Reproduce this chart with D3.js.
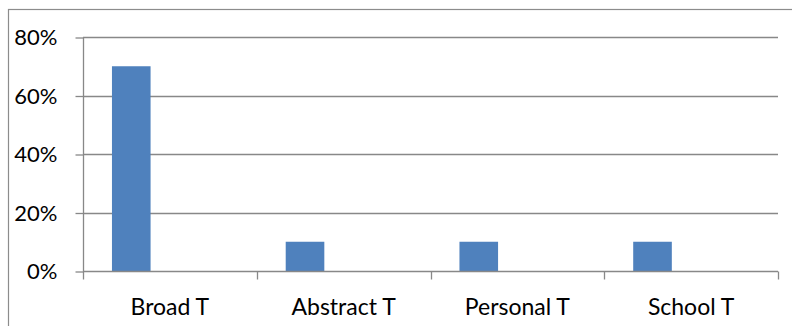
<!DOCTYPE html>
<html>
<head>
<meta charset="utf-8">
<script src="https://cdn.jsdelivr.net/npm/d3@7"></script>
<style>
  html, body { margin: 0; padding: 0; background: #fff; }
  svg { display: block; }
  text { font-family: Lato, "Open Sans", sans-serif; fill: #000; }
</style>
</head>
<body>
<svg id="chart" width="792" height="326"></svg>
<script>
// Categories and series values
const categories = ["Broad T", "Abstract T", "Personal T", "School T"];
const seriesNames = ["Series1", "Series2", "Series3"];
const series1 = [0.70, 0.10, 0.10, 0.10];
const series2 = [0, 0, 0, 0];
const series3 = [0, 0, 0, 0];
const yTicks = [0, 0.2, 0.4, 0.6, 0.8];

const seriesValues = [series1, series2, series3];

const svg = d3.select("#chart");
const W = 792, H = 326;
const m = { left: 83, right: 14, top: 37, bottom: 55 };

// Outer chart frame (extends past the window on right and bottom)
svg.append("rect")
  .attr("x", 8.5).attr("y", 9.5)
  .attr("width", 900).attr("height", 500)
  .attr("fill", "none").attr("stroke", "#8c8c8c").attr("stroke-width", 1.2);

const x = d3.scaleBand().domain(categories)
  .range([m.left, W - m.right]).paddingInner(0).paddingOuter(0);
const y = d3.scaleLinear().domain([0, 0.8]).range([H - m.bottom, m.top]);

// Each category holds three series slots with a 150% gap split around them
const slot = x.bandwidth() / (seriesNames.length + 1.5);
const xs = d3.scaleBand().domain(seriesNames)
  .range([slot * 0.75, slot * 0.75 + slot * seriesNames.length]).padding(0);

// Gridlines
const grid = svg.append("g");
grid.selectAll("line").data(yTicks.filter(d => d > 0)).join("line")
  .attr("x1", m.left).attr("x2", W - m.right)
  .attr("y1", d => Math.round(y(d)) + 0.5).attr("y2", d => Math.round(y(d)) + 0.5)
  .attr("stroke", "#888").attr("stroke-width", 1.3);

// Bars
const rows = categories.map((c, i) => ({ c, vals: seriesNames.map((s, k) => ({ s, v: seriesValues[k][i] })) }));
svg.append("g").selectAll("g").data(rows).join("g")
  .attr("transform", d => `translate(${x(d.c)},0)`)
  .selectAll("rect").data(d => d.vals.filter(e => e.v > 0)).join("rect")
  .attr("x", d => xs(d.s))
  .attr("width", xs.bandwidth())
  .attr("y", d => y(d.v))
  .attr("height", d => y(0) - y(d.v))
  .attr("fill", "#4f81bd");

// Y axis
const yAxis = d3.axisLeft(y).tickValues(yTicks).tickFormat(d3.format(".0%"))
  .tickSize(8).tickPadding(18);
const gy = svg.append("g").attr("transform", `translate(${m.left + 0.5},0.5)`).call(yAxis);
gy.select(".domain").attr("stroke", "#888").attr("stroke-width", 1.3).attr("d", `M0,${y(0.8)}V${y(0)}`);
gy.selectAll(".tick line").attr("stroke", "#888").attr("stroke-width", 1.3);
gy.selectAll(".tick text").style("font-size", "22px").attr("font-family", null);

// X axis
const xAxis = d3.axisBottom(x).tickSize(0).tickPadding(27);
const gx = svg.append("g").attr("transform", `translate(0,${Math.round(y(0)) + 0.5})`).call(xAxis);
gx.select(".domain").attr("stroke", "#888").attr("stroke-width", 1.3).attr("d", `M${m.left},0H${W - m.right}`);
gx.selectAll(".tick text").style("font-size", "23px").attr("font-family", null);
// Category boundary ticks
const bounds = categories.map(c => x(c)).concat([W - m.right]);
gx.append("g").selectAll("line").data(bounds).join("line")
  .attr("x1", d => Math.round(d) + 0.5).attr("x2", d => Math.round(d) + 0.5)
  .attr("y1", 0).attr("y2", 8)
  .attr("stroke", "#888").attr("stroke-width", 1.3);
</script>
</body>
</html>
